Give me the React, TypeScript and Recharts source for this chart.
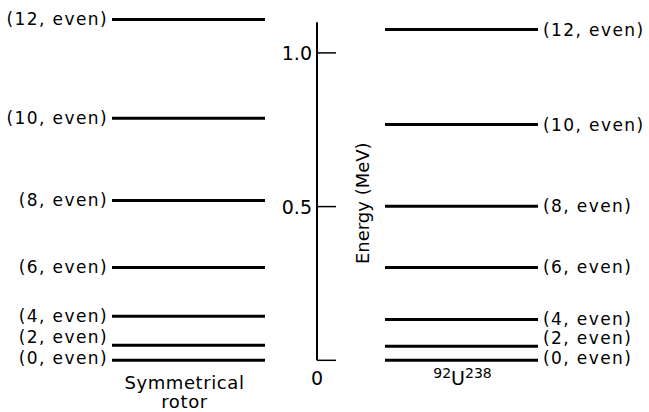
import { ComposedChart, XAxis, YAxis, Line, ReferenceLine, LabelList } from 'recharts';

// level energies (MeV), lowest first
const spinLabels = ['(0, even)', '(2, even)', '(4, even)', '(6, even)', '(8, even)', '(10, even)', '(12, even)'];
const rotorLevels = [0, 0.049, 0.143, 0.302, 0.52, 0.787, 1.109];
const uraniumLevels = [0, 0.046, 0.133, 0.302, 0.501, 0.767, 1.076];

const energyTicks = [0, 0.5, 1.0];
const energyTickLabels = ['0', '0.5', '1.0'];

// layout (x axis runs in page pixels)
const W = 649;
const H = 412;
const FONT = '"DejaVu Sans", sans-serif';
const ROTOR_X = [112, 265];
const URANIUM_X = [385, 538];
const AXIS_X = 317;
const AXIS_TOP = 1.1;
const Y_DOMAIN = [-0.012, 1.12];
// the two lowest labels are pushed apart in the original
const labelNudge = [-2, -8, 0, 0, 0, 0, 0];

// each level is a two-point segment
const levelSegments = (levels: number[], xs: number[], side: 'left' | 'right') =>
    levels.map((e, i) => ({
        id: `${side}-${i}`,
        side,
        nudge: labelNudge[i],
        points: [
            { x: xs[0], e, tag: side === 'left' ? spinLabels[i] : '' },
            { x: xs[1], e, tag: side === 'right' ? spinLabels[i] : '' },
        ],
    }));

const segments = [...levelSegments(rotorLevels, ROTOR_X, 'left'), ...levelSegments(uraniumLevels, URANIUM_X, 'right')];
const frame = [{ x: 0, e: Y_DOMAIN[0] }, { x: W, e: Y_DOMAIN[1] }];

const levelLabel = (side: 'left' | 'right', nudge: number) => (props: any) => {
    const { x, y, value } = props;
    if (!value) return null;
    return (
        <text x={side === 'left' ? x - 4 : x + 5} y={y + nudge} textAnchor={side === 'left' ? 'end' : 'start'}
            dominantBaseline="central" fontFamily={FONT} fontSize={17} letterSpacing={1.4} fill="#000">
            {value}
        </text>
    );
};

type VB = { x: number; y: number; width: number; height: number };

const tickLabel = (text: string, atZero: boolean) => (props: any) => {
    const vb = props.viewBox as VB;
    return atZero ? (
        <text x={vb.x} y={vb.y + 18} textAnchor="middle" dominantBaseline="central" fontFamily={FONT} fontSize={19} fill="#000">{text}</text>
    ) : (
        <text x={vb.x - 5} y={vb.y} textAnchor="end" dominantBaseline="central" fontFamily={FONT} fontSize={19} fill="#000">{text}</text>
    );
};

const axisTitle = (props: any) => {
    const vb = props.viewBox as VB;
    const cx = vb.x + 46;
    const cy = vb.y + vb.height / 2 + 12;
    return (
        <text x={cx} y={cy} transform={`rotate(-90 ${cx} ${cy})`} textAnchor="middle" dominantBaseline="central"
            fontFamily={FONT} fontSize={18} fill="#000">
            Energy (MeV)
        </text>
    );
};

const rotorCaption = (props: any) => {
    const vb = props.viewBox as VB;
    const cx = vb.x + vb.width / 2 - 4;
    return (
        <text fontFamily={FONT} fontSize={18} letterSpacing={0.6} fill="#000" textAnchor="middle">
            <tspan x={cx} y={vb.y + 29}>Symmetrical</tspan>
            <tspan x={cx} y={vb.y + 48}>rotor</tspan>
        </text>
    );
};

const uraniumCaption = (props: any) => {
    const vb = props.viewBox as VB;
    const cx = vb.x + vb.width / 2 + 1;
    return (
        <text x={cx} y={vb.y + 25} fontFamily={FONT} fill="#000" textAnchor="middle">
            <tspan fontSize={14} dy={-7}>92</tspan>
            <tspan fontSize={19} dy={7}>U</tspan>
            <tspan fontSize={14} dy={-7}>238</tspan>
        </text>
    );
};

export default function App() {
    return (
        <div style={{ position: 'absolute', left: 0, top: 0, background: '#fff' }}>
            <ComposedChart width={W} height={H} data={frame} margin={{ top: 16, right: 0, bottom: 48, left: 0 }}>
                <XAxis type="number" dataKey="x" domain={[0, W]} allowDataOverflow hide />
                <YAxis type="number" dataKey="e" domain={Y_DOMAIN} allowDataOverflow hide />

                {segments.map((s) => (
                    <Line
                        key={s.id}
                        data={s.points}
                        dataKey="e"
                        stroke="#000"
                        strokeWidth={3}
                        dot={false}
                        activeDot={false}
                        isAnimationActive={false}
                    >
                        <LabelList dataKey="tag" content={levelLabel(s.side, s.nudge)} />
                    </Line>
                ))}

                {/* energy axis */}
                <ReferenceLine
                    segment={[{ x: AXIS_X, y: 0 }, { x: AXIS_X, y: AXIS_TOP }]}
                    stroke="#000" strokeWidth={2} ifOverflow="visible"
                    label={{ content: axisTitle }}
                />
                {energyTicks.map((t, i) => (
                    <ReferenceLine
                        key={`tick-${t}`}
                        segment={[{ x: AXIS_X, y: t }, { x: AXIS_X + 19, y: t }]}
                        stroke="#000" strokeWidth={1.5} ifOverflow="visible"
                        label={{ content: tickLabel(energyTickLabels[i], t === 0) }}
                    />
                ))}
                <ReferenceLine
                    segment={[{ x: ROTOR_X[0], y: 0 }, { x: ROTOR_X[1], y: 0 }]}
                    stroke="none" ifOverflow="visible"
                    label={{ content: rotorCaption }}
                />
                <ReferenceLine
                    segment={[{ x: URANIUM_X[0], y: 0 }, { x: URANIUM_X[1], y: 0 }]}
                    stroke="none" ifOverflow="visible"
                    label={{ content: uraniumCaption }}
                />
            </ComposedChart>
        </div>
    );
}
